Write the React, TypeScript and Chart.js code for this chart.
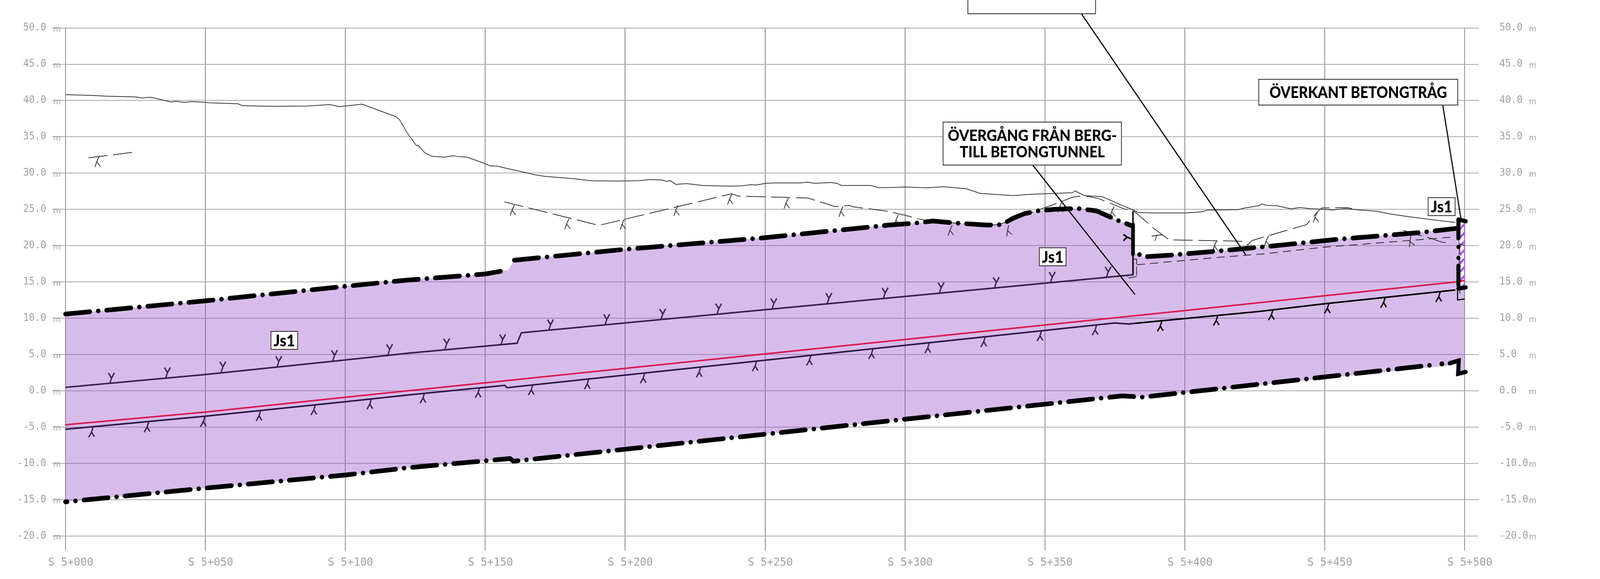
import React, { useEffect, useRef } from "react";
import { Chart, registerables } from "chart.js";

Chart.register(...registerables);

type P = [number, number];

const yTicks = [-20, -15, -10, -5, 0, 5, 10, 15, 20, 25, 30, 35, 40, 45, 50];
const xTicks = [0, 50, 100, 150, 200, 250, 300, 350, 400, 450, 500];
const xTickLabels = ["S 5+000", "S 5+050", "S 5+100", "S 5+150", "S 5+200", "S 5+250", "S 5+300", "S 5+350", "S 5+400", "S 5+450", "S 5+500"];

const groundLine: P[] = [
  [0, 40.8], [10, 40.7], [14.2, 40.6], [24.9, 40.5], [27.5, 40.35], [30.3, 40.45], [32.3, 40.3], [37.7, 39.8], [39.6, 39.9], [42.4, 39.75], [44.9, 39.85], [48.2, 39.8], [52, 39.67], [61.6, 39.55], [63.3, 39.28], [73.7, 39.2], [86.7, 39.25], [94.4, 39.45], [97.9, 39.15], [106, 39.5], [113.7, 38.4], [118, 37.8], [119.3, 37.4], [122, 35.6],
  [123.7, 34.7], [125.3, 33.85], [126.4, 33.7], [128.4, 32.8], [131.1, 32.3], [135.5, 32.2], [138.5, 32.4], [139.8, 32.3], [143.5, 32.2], [150, 31.3], [151.6, 31.0], [154.4, 30.95], [159.3, 30.5], [165.9, 29.95], [167.2, 29.8], [171.4, 29.55], [182.4, 29.2], [187.9, 28.95], [196.7, 28.9], [204.3, 28.95], [208.7, 29.1], [213.1, 29.05], [214.8, 28.85], [216.2, 28.95], [218.1, 28.45], [222, 28.55], [227.6, 28.3], [237.3, 28.2], [241.7, 28.25], [245, 28.4], [246.6, 28.35], [250.4, 28.6], [253.7, 28.65], [262.5, 28.65], [265.3, 28.75], [267.5, 28.6], [273.5, 28.7], [275.7, 28.6], [277.3, 28.3], [287.8, 28.3], [290.5, 28.0], [294, 28.0],
  [300, 28.08], [307.6, 27.97], [313.9, 28.13], [321.9, 27.84], [327, 27.2], [338.8, 26.9], [344.7, 27.08], [359.9, 27.3], [360.8, 27.57], [364.1, 26.9], [370.5, 26.75], [378.5, 25.4], [381.9, 24.87], [383.1, 24.57], [389.5, 24.5], [400.4, 24.5], [405.9, 24.65], [408, 24.9], [419, 24.97], [421.6, 25.2], [426.4, 25.5], [427.5, 25.75], [429, 25.57], [433, 25.5], [435.3, 25.3], [438, 25.07], [441.1, 25.26], [445, 25.1], [449.7, 25.0], [452.8, 24.93], [457.5, 25.1], [461.4, 24.95], [468.4, 24.76], [473.8, 24.34], [480, 24], [484.7, 23.77], [490.9, 23.46], [496.7, 23.2],
];

const rockA: P[] = [[8.2, 32.1], [24.7, 32.9]];
const rockB: P[] = [
  [156.9, 26.03], [190.6, 22.8], [238.1, 27.15], [240.3, 26.84], [265.3, 26.56], [275.1, 25.38], [280, 25.55], [281.7, 25.34], [294.1, 24.73], [301.5, 24.05], [303.8, 23.76], [308.4, 23.43], [318.6, 23.1], [329.5, 22.84], [333.8, 22.9], [337.1, 23.43], [350.2, 25.27], [352.3, 25.54], [359.9, 26.68], [364.1, 26.89], [369.2, 26.49], [378.5, 25.05], [381.9, 24.73], [386.9, 23.1], [389, 22.35], [394.5, 20.8], [412.2, 20.68], [421, 20.6], [422.5, 20.1], [424, 20.7], [426.4, 20.98], [433.7, 21.8], [443.5, 22.9], [447.4, 24.65], [449, 25.2], [458.2, 25.24], [459.8, 25.1],
];
const rockC: P[] = [[478.1, 22.1], [485.5, 21.26], [487.8, 21.03], [492.1, 20.46], [495.2, 20.4]];
const rockD: P[] = [[498, 20.3], [500, 20.0]];
const rockMarks: P[] = [[12, 32.28], [160.4, 25.6], [179.9, 23.7], [199.7, 23.66], [218.9, 25.55], [238.1, 27.1], [258.3, 26.55], [277.9, 25.43], [297.6, 24.24], [316.9, 22.84], [337.1, 22.84], [356.1, 26.03], [374.7, 25.4], [392, 21.5], [411.4, 20.68], [429.9, 21.34], [447.4, 24.65], [480.8, 21.34]];
const rockMarkTurn = [0, 0, 0, 0, 0, 0, 0, 0, 0, 0, -12, 0, 0, 60, 0, 0, 0, -15];

const tunnelRoof: P[] = [[0, 0.48], [50, 2.25], [100, 4.25], [122.3, 5.18], [161.4, 6.56], [162.9, 8.0], [360.2, 15.2], [381.5, 15.99]];
const tunnelRoofMarks: P[] = [[15.8, 1.0], [35.8, 1.75], [55.6, 2.55], [75.6, 3.3], [95.5, 4.13], [115.2, 4.95], [135.6, 5.74], [155.6, 6.32], [172.7, 8.36], [192.8, 9.09], [212.8, 9.82], [232.8, 10.55], [252.5, 11.27], [272.2, 12.0], [292.3, 12.73], [312.3, 13.46], [332, 14.18], [352, 14.91], [372, 15.64]];
const sideMark: P[] = [[380.8, 20.95]];

const tunnelFloor: P[] = [[0, -5.3], [50, -3.5], [100, -1.5], [122.3, -0.58], [157, 0.75], [157.8, 0.44], [375, 9.35], [380, 9.2], [382, 9.3], [426.4, 10.93], [450, 12.0], [496.7, 13.9]];
const tunnelFloorMarks: P[] = [[9.85, -5], [29.7, -4.3], [49.8, -3.55], [69.7, -2.75], [89.3, -1.93], [109.3, -1.13], [128.3, -0.3], [148, 0.45], [167, 0.82], [187, 1.63], [207, 2.45], [227, 3.27], [247, 4.1], [266.4, 4.9], [288.6, 5.8], [308.7, 6.6], [328.7, 7.45], [348.8, 8.27], [368.5, 9.08], [391.8, 9.6], [411.8, 10.4], [431.5, 11.15], [451.5, 12.05], [471.6, 12.85], [491.3, 13.65]];

const profileLine: P[] = [[0, -4.68], [50, -2.93], [100, -0.88], [122.3, 0], [200, 3.1], [300, 7.08], [400, 11.06], [450, 13.1], [496.7, 15]];
const profileEnd: P[] = [[496.7, 15], [500, 15.2]];

const upperA: P[] = [[0, 10.58], [50, 12.4], [100, 14.4], [122, 15.25], [150, 16.1], [158.2, 16.65]];
const upperB: P[] = [[160.4, 18], [200, 19.5], [250, 21.1], [292, 22.75], [294.1, 22.84], [303.4, 23.1], [310, 23.4], [318.6, 23.1], [329.5, 22.84], [333.8, 22.9], [335.9, 23.2], [338.8, 23.8], [342.6, 24.4], [347.3, 24.8], [353.2, 25.0], [361.6, 25.13], [368.4, 24.8], [376.4, 23.43], [381.4, 22.7]];
const upperC: P[] = [[383.8, 18.78], [385.2, 18.46], [394.9, 18.7], [410.1, 19.2], [424.9, 19.73], [429.9, 19.9], [454.4, 20.87], [483.9, 21.8], [497.4, 22.4]];
const lowerBound: P[] = [[0, -15.3], [50, -13.4], [100, -11.6], [122.3, -10.6], [158.9, -9.33], [160, -9.7], [377.6, -0.7], [385, -0.87], [489.4, 3.6]];
const lowerEnd: P[] = [[494.7, 3.8], [497.9, 4.17], [497.7, 2.35], [500.4, 2.6]];
const lowerDot: P[] = [[491.9, 3.72]];

const fillTopEnd: P[] = [[497.5, 22.4], [497.6, 14], [500, 14]];
const fillBottomEnd: P[] = [[497.6, 4.17], [497.7, 2.5], [500, 2.6]];

const wallThin: P[] = [[381.5, 24.77], [381.5, 15.93]];
const wallThick: P[] = [[381.5, 22.9], [381.5, 18.83]];
const troughWall: P[] = [[497.8, 23.6], [497.8, 14.16]];
const troughTop: P[] = [[497.8, 23.6], [500.4, 23.37]];
const troughBottom: P[] = [[497.8, 14.1], [500.4, 14.25]];
const troughHatchTop: P[] = [[498.2, 23.2], [500, 23.2]];
const troughHatchBottom: P[] = [[498.2, 14.3], [500, 14.3]];
const troughEdgeLeft: P[] = [[497.9, 23], [497.9, 14.2]];
const troughEdgeRight: P[] = [[500, 23.2], [500, 14.3]];
const sumpLine: P[] = [[497.5, 13.9], [497.5, 12.52], [500, 12.66]];
const sumpDash: P[] = [[498.3, 20.2], [498.3, 13.4]];
const concreteRoof: P[] = [[382.9, 17.37], [412.3, 18.4], [427.5, 18.85], [450, 19.8], [496.3, 21.2]];
const concreteBracketA: P[] = [[381.6, 18.16], [382.8, 18.13], [382.8, 15.9]];
const concreteBracketB: P[] = [[382.8, 15.75], [379.6, 15.53], [379.6, 15.8]];

const leaderA: P[] = [[363, 51.99], [421.8, 18.74]];
const leaderB: P[] = [[345.5, 31.18], [382.2, 13.28]];
const leaderC: P[] = [[492.2, 39.4], [498.8, 23.5]];

const noteText = [["ÖVERGÅNG FRÅN BERG-", "TILL BETONGTUNNEL"], ["ÖVERKANT BETONGTRÅG"], ["Js1"], ["Js1"], ["Js1"], [""]];
const noteAt: P[] = [[345.5, 34.07], [462, 41.15], [78.2, 6.95], [352.8, 18.47], [491.8, 25.38], [345.3, 53.84]];
const noteSize: P[] = [[482, 110], [538, 66], [72, 46], [72, 46], [73, 46], [345, 70]];
const noteFont = [39, 41, 41, 41, 41, 38];
const noteTextWidth = [[457, 392], [480], [58], [58], [58], [0]];

const xy = (a: P[]) => a.map(([x, y]) => ({ x, y }));

function glyph(color: string, lw: number, stem: P, left: P, right: P) {
  const c = document.createElement("canvas");
  c.width = c.height = 90;
  const g = c.getContext("2d")!;
  g.translate(45, 45);
  g.strokeStyle = color;
  g.lineWidth = lw;
  g.lineCap = "butt";
  g.beginPath();
  g.moveTo(0, 0);
  g.lineTo(stem[0], stem[1]);
  g.lineTo(stem[0] + right[0], stem[1] + right[1]);
  g.moveTo(stem[0], stem[1]);
  g.lineTo(stem[0] + left[0], stem[1] + left[1]);
  g.stroke();
  return c;
}

function hatch() {
  const c = document.createElement("canvas");
  c.width = c.height = 22;
  const g = c.getContext("2d")!;
  g.fillStyle = "#ffffff";
  g.fillRect(0, 0, 22, 22);
  g.strokeStyle = "#a65be0";
  g.lineWidth = 5.5;
  for (const o of [-22, 0, 22]) {
    g.beginPath();
    g.moveTo(o - 2, 24);
    g.lineTo(o + 24, -2);
    g.stroke();
  }
  return g.createPattern(c, "repeat")!;
}

const overlay = {
  id: "overlay",
  afterDatasetsDraw(chart: any) {
    const { ctx, scales } = chart;
    ctx.save();
    noteAt.forEach(([st, el], i) => {
      const cx = scales.x.getPixelForValue(st);
      const cy = scales.y.getPixelForValue(el);
      const [w, h] = noteSize[i];
      ctx.fillStyle = "#ffffff";
      ctx.strokeStyle = "#222222";
      ctx.lineWidth = 2;
      ctx.fillRect(cx - w / 2, cy - h / 2, w, h);
      ctx.strokeRect(cx - w / 2, cy - h / 2, w, h);
      ctx.fillStyle = "#000000";
      ctx.font = `900 ${noteFont[i]}px Lato`;
      ctx.textAlign = "center";
      ctx.textBaseline = "middle";
      const lines = noteText[i];
      lines.forEach((t, k) => {
        if (t) ctx.fillText(t, cx, cy + 2 + (k - (lines.length - 1) / 2) * 42, noteTextWidth[i][k]);
      });
    });
    ctx.restore();
  },
  afterDraw(chart: any) {
    const { ctx, scales, chartArea } = chart;
    ctx.save();
    ctx.fillStyle = "#a4a4a4";
    ctx.font = "21px 'DejaVu Sans'";
    ctx.textAlign = "center";
    ctx.textBaseline = "middle";
    yTicks.forEach((v) => {
      const y = scales.y.getPixelForValue(v) + 4;
      ctx.fillText("m", chartArea.left - 23, y);
      ctx.fillText("m", chartArea.right + 184, y);
    });
    ctx.restore();
  },
};

export default function App() {
  const ref = useRef<HTMLCanvasElement>(null);
  useEffect(() => {
    document.body.style.margin = "0";
    document.body.style.background = "#ffffff";
    const roofGlyph = glyph("#35204f", 3.5, [4.9, -14.2], [-8.4, -12.8], [7.7, -13.3]);
    const floorGlyphA = glyph("#35204f", 3.5, [-4.2, 12.8], [-7.7, 13.3], [7.7, 11.8]);
    const floorGlyphB = glyph("#000000", 3.5, [-4.2, 12.8], [-7.7, 13.3], [7.7, 11.8]);
    const rockGlyph = glyph("#222222", 2, [-6.3, 13.2], [-4.9, 13.7], [9.8, 12.3]);
    const sideGlyph = glyph("#000000", 4, [-10.7, -4.3], [-10, -6.7], [-10, 9.3]);

    const line = (data: P[], color: string, width: number, order: number, extra: any = {}) => ({
      type: "line",
      data: xy(data),
      borderColor: color,
      borderWidth: width,
      pointRadius: 0,
      fill: false,
      tension: 0,
      clip: false,
      order,
      ...extra,
    });
    const marks = (data: P[], style: any, order: number, extra: any = {}) => ({
      type: "line",
      data: xy(data),
      showLine: false,
      pointStyle: style,
      pointRadius: 5,
      clip: false,
      order,
      ...extra,
    });
    const DD = { borderDash: [66, 22.7, 0.1, 22.7], borderCapStyle: "round", borderJoinStyle: "round" };

    const datasets: any[] = [
      line(leaderA, "#000000", 3, 1),
      line(leaderB, "#000000", 3, 1),
      line(leaderC, "#000000", 3, 1),
      line(upperA, "#000000", 12, 2, DD),
      line(upperB, "#000000", 12, 2, DD),
      line(upperC, "#000000", 12, 2, { ...DD, borderDashOffset: 88.7 }),
      line(lowerBound, "#000000", 12, 2, { ...DD, borderDashOffset: 61.7 }),
      line(lowerEnd, "#000000", 11, 2, { borderJoinStyle: "miter", borderCapStyle: "round" }),
      marks(lowerDot, "circle", 2, { pointRadius: 6.5, pointBackgroundColor: "#000000", pointBorderWidth: 0 }),
      line(wallThick, "#000000", 10, 2, { borderCapStyle: "round" }),
      line(wallThin, "#000000", 4, 3),
      line(troughWall, "#000000", 11, 2, { borderDash: [48, 22, 0.1, 28, 0.1, 20, 50, 500], borderCapStyle: "round" }),
      line(troughTop, "#000000", 11, 2, { borderCapStyle: "round" }),
      line(troughBottom, "#000000", 11, 2, { borderCapStyle: "round" }),
      line(tunnelRoof, "#35204f", 4, 5),
      line(tunnelFloor, "#2b1845", 4, 5, { segment: { borderColor: (c: any) => (c.p0.parsed.x >= 382 ? "#000000" : "#2b1845") } }),
      line(profileLine, "#dc1a4e", 4, 6),
      line(profileEnd, "#ff1414", 4, 4),
      marks(tunnelRoofMarks, roofGlyph, 5),
      marks(tunnelFloorMarks, (c: any) => (c.parsed && c.parsed.x > 380 ? floorGlyphB : floorGlyphA), 5),
      marks(sideMark, sideGlyph, 3),
      marks(rockMarks, rockGlyph, 7, { pointRotation: (c: any) => rockMarkTurn[c.dataIndex] }),
      line(groundLine, "#383838", 2, 7),
      line(rockA, "#333333", 2, 7, { borderDash: [52, 15] }),
      line(rockB, "#333333", 2, 7, { borderDash: [52, 15] }),
      line(rockC, "#333333", 2, 7, { borderDash: [52, 15] }),
      line(rockD, "#333333", 2, 7),
      line(concreteRoof, "#2a2a2a", 2, 8, { borderDash: [22, 14] }),
      line(concreteBracketA, "#2a2a2a", 2, 8, { borderDash: [22, 6] }),
      line(concreteBracketB, "#2a2a2a", 2, 8, { borderDash: [22, 6] }),
      line(sumpDash, "#2a2a2a", 2, 4, { borderDash: [26, 10] }),
      line(sumpLine, "#000000", 3, 4),
      line(troughEdgeLeft, "#a65be0", 3, 9),
      line(troughEdgeRight, "#a65be0", 3, 9),
    ];
    const hatchBase = datasets.length;
    datasets.push({ type: "line", data: xy(troughHatchBottom), borderWidth: 0, pointRadius: 0, fill: false, order: 50 });
    datasets.push({ type: "line", data: xy(troughHatchTop), borderWidth: 0, pointRadius: 0, backgroundColor: hatch(), fill: { target: hatchBase }, order: 10 });
    const fillBase = datasets.length;
    datasets.push({
      type: "line",
      data: xy([...lowerBound.slice(0, 8), [494.7, 3.5] as P, ...fillBottomEnd]),
      borderWidth: 0,
      pointRadius: 0,
      fill: false,
      order: 60,
    });
    datasets.push({
      type: "line",
      data: xy([...upperA, ...upperB, [381.6, 18.9] as P, ...upperC, ...fillTopEnd]),
      borderWidth: 0,
      pointRadius: 0,
      backgroundColor: "rgba(147,72,200,0.37)",
      fill: { target: fillBase },
      order: 20,
    });

    const yAxis = (position: string, tickLength: number, padding: number, width: number, onArea: boolean) => ({
      type: "linear",
      position,
      min: -22,
      max: 50,
      afterBuildTicks: (s: any) => {
        s.ticks = yTicks.map((value) => ({ value }));
      },
      afterFit: (s: any) => {
        s.width = width;
      },
      border: { display: false },
      grid: { color: "#a9a9a9", lineWidth: 2, tickLength, tickColor: "#a9a9a9", drawTicks: true, drawOnChartArea: onArea },
      ticks: {
        padding,
        autoSkip: false,
        color: "#a0a0a0",
        font: { family: "'DejaVu Sans Mono'", size: 26 },
        callback: (v: any) => Number(v).toFixed(1),
      },
    });

    const chart = new Chart(ref.current!, {
      type: "line",
      data: { datasets },
      plugins: [overlay],
      options: {
        responsive: false,
        animation: false,
        devicePixelRatio: 1,
        events: [],
        layout: { autoPadding: false, padding: { top: 48.6, left: 0, right: 0, bottom: 0 } },
        plugins: { legend: { display: false }, tooltip: { enabled: false }, title: { display: false } },
        scales: {
          x: {
            type: "linear",
            min: 0,
            max: 500,
            afterBuildTicks: (s: any) => {
              s.ticks = xTicks.map((value) => ({ value }));
            },
            afterFit: (s: any) => {
              s.height = 73;
            },
            border: { display: false },
            grid: { color: "#808080", lineWidth: 2, drawTicks: false },
            ticks: {
              padding: 14,
              labelOffset: 14,
              maxRotation: 0,
              autoSkip: false,
              color: "#a0a0a0",
              font: { family: "'DejaVu Sans Mono'", size: 29 },
              callback: (_: any, i: number) => xTickLabels[i],
            },
          },
          y: yAxis("left", 36, 16, 177, true),
          y2: yAxis("right", 38, 56, 366, false),
        },
      },
    } as any);
    return () => chart.destroy();
  }, []);
  return <canvas ref={ref} width={4324} height={1483} style={{ display: "block", width: "100vw", height: 1483 }} />;
}
